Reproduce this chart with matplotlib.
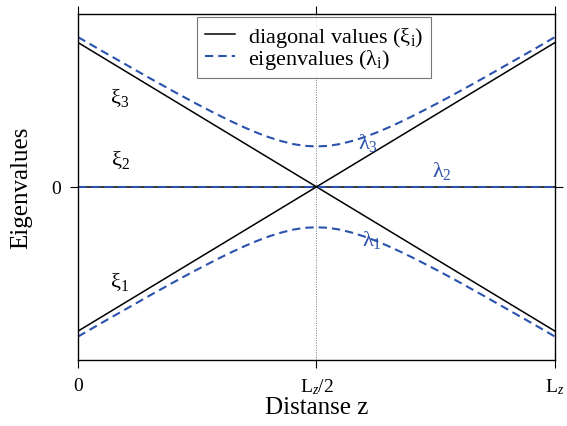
import matplotlib
matplotlib.use("Agg")
import matplotlib.pyplot as plt

plt.rcParams['font.family'] = ['Liberation Serif', 'DejaVu Serif']
plt.rcParams['mathtext.fontset'] = 'custom'
plt.rcParams['mathtext.rm'] = 'Liberation Serif'
plt.rcParams['mathtext.it'] = 'Liberation Serif:italic'

# distance along z, in units of Lz
z_diag = [0.0, 1.0]
xi_down = [1.0, -1.0]
xi_up = [-1.0, 1.0]
xi_mid = [0.0, 0.0]

z_eig = [0.0, 0.025, 0.05, 0.075, 0.1, 0.125, 0.15, 0.175, 0.2, 0.225,
         0.25, 0.275, 0.3, 0.325, 0.35, 0.375, 0.4, 0.425, 0.45, 0.475,
         0.5, 0.525, 0.55, 0.575, 0.6, 0.625, 0.65, 0.675, 0.7, 0.725,
         0.75, 0.775, 0.8, 0.825, 0.85, 0.875, 0.9, 0.925, 0.95, 0.975, 1.0]
lam3 = [1.038, 0.990, 0.942, 0.895, 0.848, 0.801, 0.754, 0.708, 0.662, 0.617,
        0.573, 0.530, 0.488, 0.448, 0.410, 0.375, 0.344, 0.318, 0.297, 0.284,
        0.280, 0.284, 0.297, 0.318, 0.344, 0.375, 0.410, 0.448, 0.488, 0.530,
        0.573, 0.617, 0.662, 0.708, 0.754, 0.801, 0.848, 0.895, 0.942, 0.990, 1.038]
lam1 = [-1.038, -0.990, -0.942, -0.895, -0.848, -0.801, -0.754, -0.708, -0.662, -0.617,
        -0.573, -0.530, -0.488, -0.448, -0.410, -0.375, -0.344, -0.318, -0.297, -0.284,
        -0.280, -0.284, -0.297, -0.318, -0.344, -0.375, -0.410, -0.448, -0.488, -0.530,
        -0.573, -0.617, -0.662, -0.708, -0.754, -0.801, -0.848, -0.895, -0.942, -0.990, -1.038]
lam2_z = [0.0, 1.0]
lam2 = [0.0, 0.0]

xticks = [0.0, 0.5, 1.0]
xtick_labels = ['0', r'L$_z$/2', r'L$_z$']

blue = '#2b52ae'
dash = (0, (4, 2.4))

fig = plt.figure(figsize=(5.67, 4.27), dpi=100)
ax = fig.add_axes([0.1376, 0.1546, 0.8412, 0.811])

ax.axvline(0.5, color='#777777', lw=0.7, ls=(0, (1, 1.5)), zorder=1)

ax.plot(z_diag, xi_down, color='black', lw=1.1, label=r'diagonal values (ξ$_\mathregular{i}$)')
ax.plot(z_diag, xi_up, color='black', lw=1.1)
ax.plot(z_diag, xi_mid, color='black', lw=1.1)
ax.plot(z_eig, lam3, color=blue, lw=1.5, ls=dash, label=r'eigenvalues (λ$_\mathregular{i}$)')
ax.plot(z_eig, lam1, color=blue, lw=1.5, ls=dash)
ax.plot(lam2_z, lam2, color=blue, lw=1.5, ls=dash)

ax.text(0.088, 0.62, r'ξ$_\mathregular{3}$', fontsize=16, ha='center', va='center')
ax.text(0.088, 0.19, r'ξ$_\mathregular{2}$', fontsize=16, ha='center', va='center')
ax.text(0.088, -0.65, r'ξ$_\mathregular{1}$', fontsize=16, ha='center', va='center')
ax.text(0.608, 0.31, r'λ$_\mathregular{3}$', fontsize=16, color=blue, ha='center', va='center')
ax.text(0.762, 0.12, r'λ$_\mathregular{2}$', fontsize=16, color=blue, ha='center', va='center')
ax.text(0.616, -0.36, r'λ$_\mathregular{1}$', fontsize=16, color=blue, ha='center', va='center')

ax.set_xlim(0, 1)
ax.set_ylim(-1.2, 1.2)
ax.set_xticks(xticks)
ax.set_xticklabels(xtick_labels)
ax.set_yticks([0])
ax.set_yticklabels(['0'])
ax.tick_params(direction='out', length=6, width=0.8, labelsize=14,
               top=True, right=True, pad=6)
for s in ax.spines.values():
    s.set_linewidth(1.0)

ax.set_xlabel('Distanse z', fontsize=18, labelpad=0)
ax.set_ylabel('Eigenvalues', fontsize=18, labelpad=14)

leg = ax.legend(loc='upper center', bbox_to_anchor=(0.495, 1.0), fontsize=16,
                frameon=True, fancybox=False, edgecolor='#555555',
                handlelength=1.35, borderpad=0.35, labelspacing=-0.1,
                handletextpad=0.6, borderaxespad=0.15)
leg.get_frame().set_linewidth(0.8)

fig.savefig('out.png', dpi=100)
